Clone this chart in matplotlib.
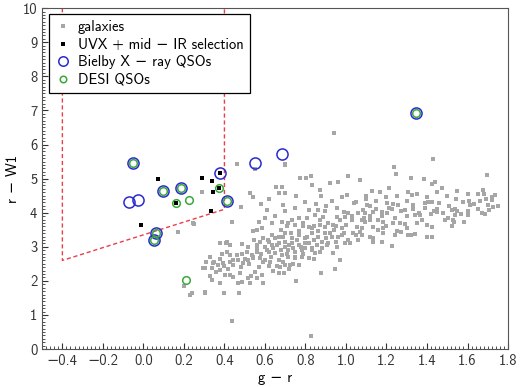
import matplotlib
matplotlib.use("Agg")
import matplotlib.pyplot as plt
from matplotlib.ticker import MultipleLocator

plt.rcParams['font.family'] = ['cmss10', 'DejaVu Sans']
plt.rcParams['axes.unicode_minus'] = True
plt.rcParams['mathtext.fontset'] = 'custom'

# galaxies (g-r, r-W1)
gal_x = [0.943,0.698,1.428,1.239,1.698,0.826,0.436,0.23,0.239,0.202,
         0.329,0.387,0.411,0.428,0.485,0.51,0.535,0.56,0.576,0.592,0.304,0.337,0.345,0.37,0.395,0.428,0.444,0.469,0.494,0.518,0.543,
         0.378,0.403,0.428,0.444,0.477,0.337,0.378,0.469,0.485,0.518,0.526,0.559,0.584,0.592,0.304,0.4,0.474,
         0.877,0.946,0.754,0.696,0.667,0.675,0.659,0.70,0.724,0.766,0.626,0.84,0.815,0.782,0.749,0.716,0.683,0.65,0.609,0.634,0.667,0.70,0.733,0.766,0.8,0.831,0.856,0.881,0.905,0.938,0.971,0.955,0.996,1.012,0.98,0.93,0.897,0.864,0.831,0.8,0.766,0.733,0.70,0.667,0.634,0.617,0.815,0.782,0.749,0.716,0.848,
         0.70,0.774,0.802,0.826,0.922,0.96,1.009,0.654,0.683,0.667,0.70,0.831,0.872,0.752,0.877,0.979,1.004,0.691,0.609,0.815,0.864,0.897,0.955,0.988,1.012,0.733,0.766,0.807,0.848,0.872,0.889,0.955,0.971,0.996,0.634,0.683,0.716,0.79,0.815,0.84,0.897,0.938,
         1.247,1.069,1.319,1.385,1.127,1.168,1.212,1.308,1.324,1.099,1.04,1.102,1.119,1.201,1.234,1.259,1.291,1.333,1.39,1.407,1.086,1.094,1.135,1.176,1.201,1.226,1.341,1.365,1.028,1.078,1.094,1.119,1.16,1.185,1.234,1.267,1.291,1.349,1.374,1.398,1.053,1.135,1.185,
         1.036,1.069,1.078,1.061,1.135,1.135,1.18,1.185,1.226,1.242,1.27,1.308,1.319,1.341,1.398,
         1.44,1.423,1.473,1.675,1.654,1.682,1.736,1.542,1.576,1.607,1.612,1.72,1.461,1.423,1.703,1.728,1.752,1.654,1.67,1.686,1.708,1.435,1.451,1.522,1.547,1.538,1.604,1.489,1.505,1.53,1.533,1.584,1.522,1.423,1.423,
         0.464,0.551,0.527,0.54,0.482,0.436,0.573,0.584,0.559,0.54,0.411,0.428,0.485,0.518,0.546,0.576,0.563,0.592,0.288,0.247,0.17,0.25,0.296,0.339,0.305,0.379,0.41,
         0.60,0.62,0.64,0.66,0.68,0.70,0.72,0.74,0.76,0.78,0.80,0.62,0.65,0.69,0.73,0.77,0.81,0.84,0.86,0.88,0.90,0.92,0.94,0.96,0.98,0.63,0.67,0.71,0.75,0.79,0.83,0.87,0.91,0.95,0.99,
         0.58,0.56,0.54,0.52,0.50,0.48,0.46,0.44,0.42,0.40,0.38,0.36,0.35,0.33,0.31,0.57,0.55,0.53,0.60,0.62,0.64,0.66,0.69,0.72,0.74,
         0.68,0.71,0.75,0.79,0.83,0.87,0.91,0.95,1.00,1.03,1.06,1.09,1.12,1.15,1.18,1.21,1.24,1.27,1.30,1.33,1.36,1.39,1.42,1.45,1.48,1.51,1.54,1.57,1.60,1.63,1.66,1.69,1.72,
         1.05,1.10,1.15,1.20,1.25,1.30,1.35,1.40,1.45,1.50,1.55,1.60,0.90,0.93,0.85,0.80,0.75,0.70,0.65,0.60,0.62,0.58,1.02,1.05,1.08,1.12,1.16,1.20,1.25,1.30]
gal_y = [6.34,5.40,5.58,5.35,5.11,0.39,0.82,1.58,1.65,1.86,
         2.71,2.79,2.85,2.76,2.80,2.85,2.76,2.85,2.66,2.56,2.37,2.37,2.51,2.46,2.51,2.56,2.46,2.61,2.51,2.61,2.66,
         2.32,2.17,2.17,2.12,2.22,2.02,1.93,1.93,1.97,2.07,1.93,2.07,2.17,1.93,1.65,1.65,1.65,
         2.24,2.34,2.0,2.24,2.24,2.40,2.43,2.46,2.46,2.48,2.56,2.63,2.66,2.71,2.66,2.71,2.76,2.81,2.90,3.05,3.10,3.0,3.10,3.05,2.95,2.90,3.05,2.95,3.05,2.81,2.61,3.0,3.10,3.2,3.34,3.29,3.39,3.29,3.39,3.25,3.34,3.25,3.39,3.29,3.34,3.20,3.10,2.9,2.85,2.9,2.81,
         5.42,5.03,5.03,5.07,4.86,4.91,5.07,4.76,4.76,4.57,4.57,4.81,4.66,4.49,4.49,4.47,4.52,4.22,4.08,4.08,4.08,4.06,4.13,4.03,3.98,3.78,3.83,3.83,3.93,3.78,3.88,3.88,3.78,3.88,3.69,3.73,3.69,3.61,3.59,3.61,3.59,3.64,
         5.13,4.96,5.02,4.99,4.64,4.61,4.71,4.61,4.52,4.49,4.27,4.22,4.19,4.27,4.25,4.22,4.08,4.22,4.27,4.32,4.08,3.98,4.03,4.03,3.98,4.10,3.93,3.93,3.78,3.78,3.73,3.78,3.78,3.73,3.69,3.70,3.67,3.69,3.78,3.64,3.59,3.59,3.54,
         3.39,3.44,3.34,3.20,3.25,3.15,3.13,3.39,3.02,3.34,3.44,3.34,3.34,3.37,3.29,
         4.89,4.84,4.73,4.68,4.55,4.55,4.52,4.39,4.32,4.35,4.22,4.37,4.29,4.32,4.22,4.16,4.19,4.10,4.0,3.95,4.08,4.05,4.01,4.08,4.06,3.93,3.93,3.80,3.83,3.78,3.73,3.73,3.61,3.59,3.30,
         5.42,5.27,4.59,4.47,4.17,3.73,3.73,3.54,3.49,3.46,3.15,3.05,3.08,3.0,3.2,3.15,3.05,3.25,4.60,3.69,3.44,3.67,2.37,2.02,1.68,3.1,3.1,
         3.00,2.85,2.95,3.05,2.90,3.15,3.05,2.95,3.20,3.00,3.10,3.15,3.25,3.30,3.40,3.45,3.30,3.20,3.45,3.15,3.25,3.40,3.50,3.30,3.55,2.70,2.60,2.80,2.70,2.80,2.95,2.85,3.10,3.15,3.40,
         2.80,2.95,2.70,2.50,2.65,2.40,2.75,2.60,2.35,2.45,2.65,2.25,2.55,2.15,2.55,2.40,2.25,2.15,2.60,2.45,2.30,2.45,2.55,2.35,2.50,
         3.50,3.60,3.65,3.70,3.55,3.65,3.70,3.60,3.65,3.90,4.00,3.85,3.90,4.10,3.90,4.15,3.85,4.05,3.90,4.10,4.00,4.15,3.95,4.10,4.00,4.20,4.10,3.95,4.05,4.25,4.35,4.40,4.45,
         4.30,4.40,4.35,4.45,4.50,4.35,4.55,4.45,4.60,4.50,4.65,4.55,4.20,4.35,4.25,4.30,4.15,4.05,3.90,3.85,4.40,4.25,3.10,3.35,3.55,3.30,3.50,3.60,3.45,3.55]

# UVX + mid-IR selection
uvx_x = [0.071, 0.288, 0.341, 0.346, 0.333, -0.013, 0.379, 0.160, 0.375]
uvx_y = [4.99, 5.02, 4.93, 4.60, 4.04, 3.65, 5.15, 4.29, 4.71]

# Bielby X-ray QSOs
bx_x = [-0.052, -0.069, -0.028, 0.099, 0.185, 0.379, 0.415, 0.061, 0.051, 0.686, 0.551, 1.346]
bx_y = [5.46, 4.31, 4.37, 4.64, 4.71, 5.15, 4.34, 3.39, 3.20, 5.72, 5.46, 6.93]

# DESI QSOs
desi_x = [0.160, 0.224, 0.375, 0.209, -0.052, 0.099, 0.185, 0.415, 0.061, 0.051, 1.346]
desi_y = [4.29, 4.37, 4.71, 2.02, 5.46, 4.64, 4.71, 4.34, 3.39, 3.20, 6.93]

# selection box
box_x = [-0.4, -0.4, 0.4, 0.4]
box_y = [10.0, 2.6, 4.1, 10.0]

fig = plt.figure(figsize=(5.2, 3.87), dpi=100)
ax = fig.add_axes([0.081, 0.098, 0.896, 0.881])

ax.plot(gal_x, gal_y, 's', color='#a6a6a6', ms=2.3, mew=0, label='galaxies', zorder=2)
ax.plot(uvx_x, uvx_y, 's', color='black', ms=3.0, mew=0, label='UVX + mid − IR selection', zorder=3)
ax.plot(bx_x, bx_y, 'o', mfc='none', mec='#2a2ad0', ms=8, mew=1.1, label='Bielby X − ray QSOs', zorder=4)
ax.plot(desi_x, desi_y, 'o', mfc='none', mec='#3aa83a', ms=5.5, mew=1.1, label='DESI QSOs', zorder=5)
ax.plot(box_x, box_y, '--', color='#e8404a', lw=1.0, dashes=(3, 2), zorder=1)

ax.set_xlim(-0.5, 1.8)
ax.set_ylim(0, 10)
ax.xaxis.set_major_locator(MultipleLocator(0.2))
ax.xaxis.set_minor_locator(MultipleLocator(0.02))
ax.yaxis.set_major_locator(MultipleLocator(1))
ax.yaxis.set_minor_locator(MultipleLocator(0.1))
ax.tick_params(which='both', direction='in', top=False, right=False, labelsize=10.5, colors='#333333')
ax.tick_params(which='major', length=4)
ax.tick_params(which='minor', length=2)
for s in ax.spines.values():
    s.set_color('#555555')
ax.set_xlabel('g − r', fontsize=10.5, labelpad=2)
ax.set_ylabel('r − W1', fontsize=10.5, labelpad=2)

leg = ax.legend(loc='upper left', bbox_to_anchor=(0.005, 0.995), fontsize=10.5,
                frameon=True, fancybox=False, framealpha=1, edgecolor='black',
                handletextpad=0.4, borderpad=0.4, labelspacing=0.25, handlelength=1.2,
                borderaxespad=0.3, markerscale=0.85)
leg.get_frame().set_linewidth(0.9)
leg.set_zorder(10)
leg.legend_handles[0].set_markersize(3.0)

fig.savefig('out.png', dpi=100)
